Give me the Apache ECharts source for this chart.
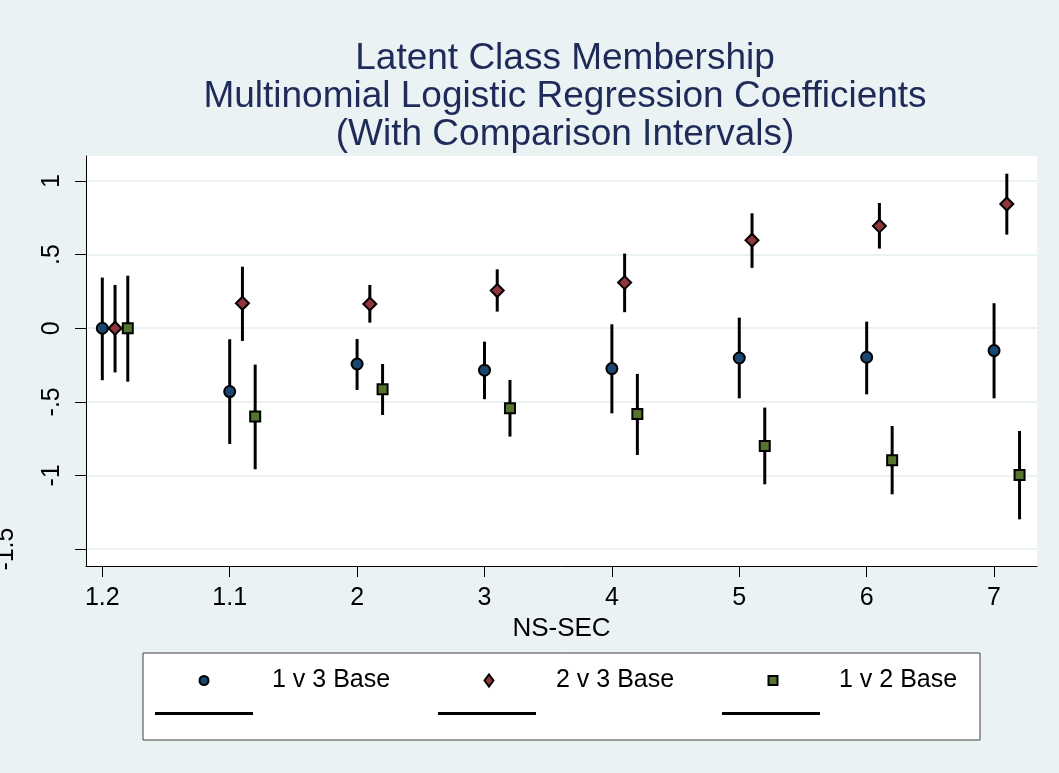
<!DOCTYPE html>
<html>
<head>
<meta charset="utf-8">
<script src="https://cdn.jsdelivr.net/npm/echarts@6/dist/echarts.min.js"></script>
<style>
  html, body { margin: 0; padding: 0; background: #eaf2f3; }
  #chart { width: 1059px; height: 773px; }
</style>
</head>
<body>
<div id="chart"></div>
<script>
// ---- Data ----
const xLabels = ['1.2', '1.1', '2', '3', '4', '5', '6', '7'];
const yTicks = [-1.5, -1, -0.5, 0, 0.5, 1];

const names = ['1 v 3 Base', '2 v 3 Base', '1 v 2 Base'];

const b13   = [0, -0.43, -0.243, -0.285, -0.274, -0.202, -0.197, -0.152];
const b13Lo = [-0.353, -0.786, -0.419, -0.482, -0.578, -0.476, -0.449, -0.476];
const b13Hi = [0.344, -0.075, -0.073, -0.091, 0.027, 0.072, 0.045, 0.17];

const b23   = [0, 0.17, 0.165, 0.256, 0.31, 0.598, 0.695, 0.844];
const b23Lo = [-0.30, -0.086, 0.038, 0.113, 0.109, 0.41, 0.541, 0.636];
const b23Hi = [0.294, 0.418, 0.294, 0.40, 0.507, 0.781, 0.851, 1.05];

const b12   = [0, -0.60, -0.415, -0.544, -0.582, -0.80, -0.897, -0.997];
const b12Lo = [-0.363, -0.958, -0.589, -0.736, -0.861, -1.06, -1.128, -1.298];
const b12Hi = [0.357, -0.247, -0.243, -0.351, -0.31, -0.539, -0.664, -0.698];

// ---- Styling ----
const FONT = "'Liberation Sans', Arial, Helvetica, sans-serif";
const colors = ['#1a476f', '#90353b', '#55752f'];
const symbols = ['circle', 'diamond', 'rect'];
const symSizes = [11, 13, 10];
const legendSym = [[9, 9], [9, 12], [9, 9]];
const offsets = [0, 0.1, 0.2];
const est = [b13, b23, b12];
const lo = [b13Lo, b23Lo, b12Lo];
const hi = [b13Hi, b23Hi, b12Hi];
const ciNames = ['ci13', 'ci23', 'ci12'];

const series = [];
for (let s = 0; s < 3; s++) {
  series.push({
    name: ciNames[s],
    type: 'custom',
    itemStyle: { color: '#000' },
    z: 2,
    encode: { x: 0, y: [1, 2] },
    data: xLabels.map((_, i) => [i + 1 + offsets[s], lo[s][i], hi[s][i]]),
    renderItem: function (params, api) {
      const p1 = api.coord([api.value(0), api.value(1)]);
      const p2 = api.coord([api.value(0), api.value(2)]);
      return {
        type: 'line',
        shape: { x1: p1[0], y1: p1[1], x2: p2[0], y2: p2[1] },
        style: { stroke: '#000', lineWidth: 3 }
      };
    }
  });
}
for (let s = 0; s < 3; s++) {
  series.push({
    name: names[s],
    type: 'scatter',
    symbol: symbols[s],
    symbolSize: symSizes[s],
    z: 5,
    itemStyle: { color: colors[s], borderColor: '#000', borderWidth: 2, opacity: 1 },
    data: xLabels.map((_, i) => [i + 1 + offsets[s], est[s][i]])
  });
}

const markerCenters = [203, 488, 772];
const textStarts = [271, 555, 838];
const lineLegendLeft = [155, 438, 722];
const legends = [];
for (let s = 0; s < 3; s++) {
  const w = legendSym[s][0], h = legendSym[s][1];
  const left = markerCenters[s] - w / 2;
  const gap = textStarts[s] - (left + w + 5);
  legends.push({
    data: [{ name: names[s], icon: symbols[s] }],
    left: left,
    top: 668,
    itemWidth: w,
    itemHeight: h,
    selectedMode: false,
    z: 5,
    padding: 0,
    textStyle: { fontFamily: FONT, fontSize: 25, color: '#000', padding: [0, 0, 0, gap] }
  });
  legends.push({
    data: [{ name: ciNames[s], icon: 'rect' }],
    left: lineLegendLeft[s],
    top: 712,
    itemWidth: 98,
    itemHeight: 3,
    selectedMode: false,
    z: 5,
    padding: 0,
    formatter: function () { return ''; },
    textStyle: { fontFamily: FONT, fontSize: 10, color: '#000' }
  });
}

const chart = echarts.init(document.getElementById('chart'), null, { renderer: 'canvas' });
chart.setOption({
  animation: false,
  backgroundColor: '#eaf2f3',
  title: {
    text: 'Latent Class Membership\nMultinomial Logistic Regression Coefficients\n(With Comparison Intervals)',
    left: 565,
    top: 40,
    textAlign: 'center',
    padding: 0,
    textStyle: { fontFamily: FONT, fontSize: 37, lineHeight: 38, fontWeight: 'normal', color: '#1e2b59' }
  },
  graphic: [{
    type: 'rect',
    z: 0,
    shape: { x: 143, y: 653, width: 837, height: 87 },
    style: { fill: '#fff', stroke: '#404040', lineWidth: 1 }
  }],
  legend: legends,
  grid: {
    left: 86, right: 22, top: 156, bottom: 207,
    outerBoundsMode: 'none',
    containLabel: false,
    show: true, backgroundColor: '#fff', borderWidth: 0
  },
  xAxis: {
    type: 'value',
    min: 0.872,
    max: 8.337,
    name: 'NS-SEC',
    nameLocation: 'middle',
    nameGap: 42,
    nameTextStyle: { fontFamily: FONT, fontSize: 26, color: '#000' },
    axisLine: { show: true, onZero: false, lineStyle: { color: '#000', width: 1 } },
    axisTick: { show: true, length: 11, lineStyle: { color: '#000', width: 1 }, customValues: [1, 2, 3, 4, 5, 6, 7, 8] },
    axisLabel: {
      customValues: [1, 2, 3, 4, 5, 6, 7, 8],
      margin: 20,
      fontFamily: FONT, fontSize: 25, color: '#000',
      formatter: function (v) { return xLabels[Math.round(v) - 1] || ''; }
    },
    splitLine: { show: false }
  },
  yAxis: {
    type: 'value',
    min: -1.615,
    max: 1.17,
    axisLine: { show: true, onZero: false, lineStyle: { color: '#000', width: 1 } },
    axisTick: { show: true, length: 11, lineStyle: { color: '#000', width: 1 }, customValues: yTicks },
    axisLabel: {
      customValues: yTicks,
      rotate: 90,
      margin: 21,
      fontFamily: FONT, fontSize: 25, color: '#000',
      formatter: function (v) {
        let t = v === 0 ? '0' : String(v).replace('0.', '.');
        if (v === -1.5) return '{shift|' + t + '}';
        return t;
      },
      rich: { shift: { fontFamily: FONT, fontSize: 25, color: '#000', padding: [0, 0, 46, 0] } }
    },
    splitLine: { show: true, lineStyle: { color: '#eaf2f3', width: 2 } }
  },
  series: series
});
</script>
</body>
</html>
